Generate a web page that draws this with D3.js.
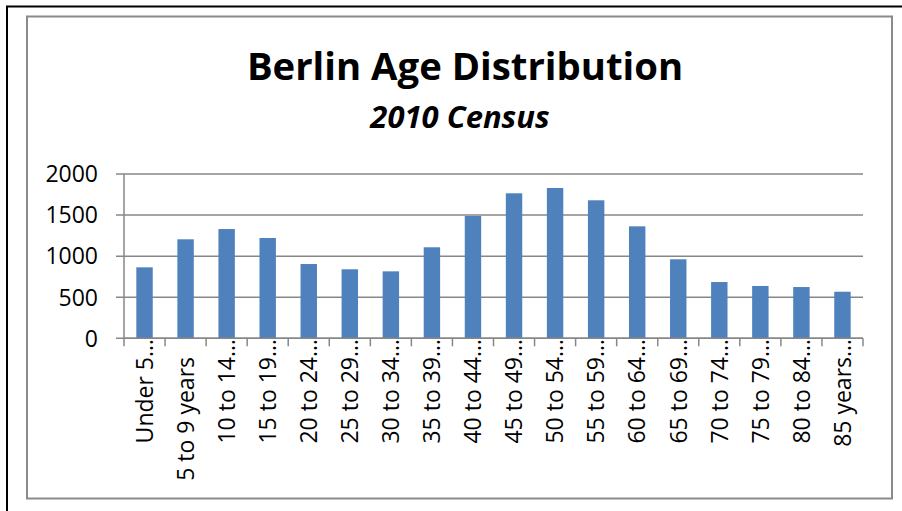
<!DOCTYPE html>
<html>
<head>
<meta charset="utf-8">
<script src="https://cdn.jsdelivr.net/npm/d3@7"></script>
<style>
  html, body { margin: 0; padding: 0; background: #fff; }
  svg { display: block; }
  text { font-family: "Open Sans", sans-serif; fill: #000; }
</style>
</head>
<body>
<svg id="chart" width="902" height="511"></svg>
<script>
const titleText = "Berlin Age Distribution";
const subtitleText = "2010 Census";
const categories = ["Under 5…", "5 to 9 years", "10 to 14…", "15 to 19…", "20 to 24…", "25 to 29…",
  "30 to 34…", "35 to 39…", "40 to 44…", "45 to 49…", "50 to 54…", "55 to 59…", "60 to 64…",
  "65 to 69…", "70 to 74…", "75 to 79…", "80 to 84…", "85 years…"];
const values = [864, 1205, 1330, 1221, 904, 840, 815, 1108, 1489, 1765, 1830, 1680, 1363, 962, 685, 637, 624, 567];
const yTicks = [0, 500, 1000, 1500, 2000];

(function () {
const svg = d3.select("#chart");
const pLeft = 124, pRight = 863, pTop = 174, pBottom = 338.3;
const gridColor = "#878787";

// outer black frame
svg.append("rect").attr("x", 7).attr("y", 6.5).attr("width", 1000).attr("height", 1000)
  .attr("fill", "none").attr("stroke", "#000").attr("stroke-width", 2);
// inner gray frame
svg.append("rect").attr("x", 27).attr("y", 16.5).attr("width", 865).attr("height", 482)
  .attr("fill", "#fff").attr("stroke", "#8a8a8a").attr("stroke-width", 2);

// titles
svg.append("text").attr("x", 465).attr("y", 80).attr("text-anchor", "middle")
  .style("font-weight", "bold").style("font-size", "38.3px").text(titleText);
svg.append("text").attr("x", 460).attr("y", 127.5).attr("text-anchor", "middle")
  .style("font-weight", "bold").style("font-style", "italic").style("font-size", "31px").text(subtitleText);

const x = d3.scaleBand().domain(categories).range([pLeft, pRight]).paddingInner(0.6).paddingOuter(0.3);
const y = d3.scaleLinear().domain([0, 2000]).range([pBottom, pTop]);

// gridlines + y ticks
const g = svg.append("g");
g.selectAll("line.grid").data(yTicks).join("line")
  .attr("x1", pLeft - 8).attr("x2", pRight)
  .attr("y1", d => y(d)).attr("y2", d => y(d))
  .attr("stroke", gridColor).attr("stroke-width", 1.5);
g.append("line").attr("x1", pLeft).attr("x2", pLeft).attr("y1", y(2000)).attr("y2", y(0))
  .attr("stroke", gridColor).attr("stroke-width", 1.5);
g.selectAll("text.ylab").data(yTicks).join("text")
  .attr("x", 98).attr("y", d => y(d)).attr("dy", "0.36em")
  .attr("text-anchor", "end").style("font-size", "23px").text(d => d);

// bars
svg.selectAll("rect.bar").data(values).join("rect")
  .attr("x", (d, i) => x(categories[i])).attr("width", x.bandwidth())
  .attr("y", d => y(d)).attr("height", d => y(0) - y(d))
  .attr("fill", "#4F81BD");

// x axis ticks at band boundaries
const step = x.step();
const bounds = d3.range(categories.length + 1).map(i => pLeft + i * step);
svg.selectAll("line.xt").data(bounds).join("line")
  .attr("x1", d => d).attr("x2", d => d).attr("y1", y(0)).attr("y2", y(0) + 8)
  .attr("stroke", gridColor).attr("stroke-width", 1.5);
svg.append("line").attr("x1", pLeft).attr("x2", pRight).attr("y1", y(0)).attr("y2", y(0))
  .attr("stroke", gridColor).attr("stroke-width", 1.5);

// x labels, rotated
const labY = 357;
const lab = svg.selectAll("g.xl").data(categories).join("g")
  .attr("transform", d => `translate(${x(d) + x.bandwidth() / 2},${labY}) rotate(-90)`);
lab.append("text").attr("text-anchor", "end").attr("dy", "0.36em").style("font-size", "23px")
  .text(d => d.replace("…", ""));
lab.filter(d => d.endsWith("…")).append("text").attr("text-anchor", "start").attr("dy", "0.36em")
  .style("font-size", "23px").text("…");
})();
</script>
</body>
</html>
